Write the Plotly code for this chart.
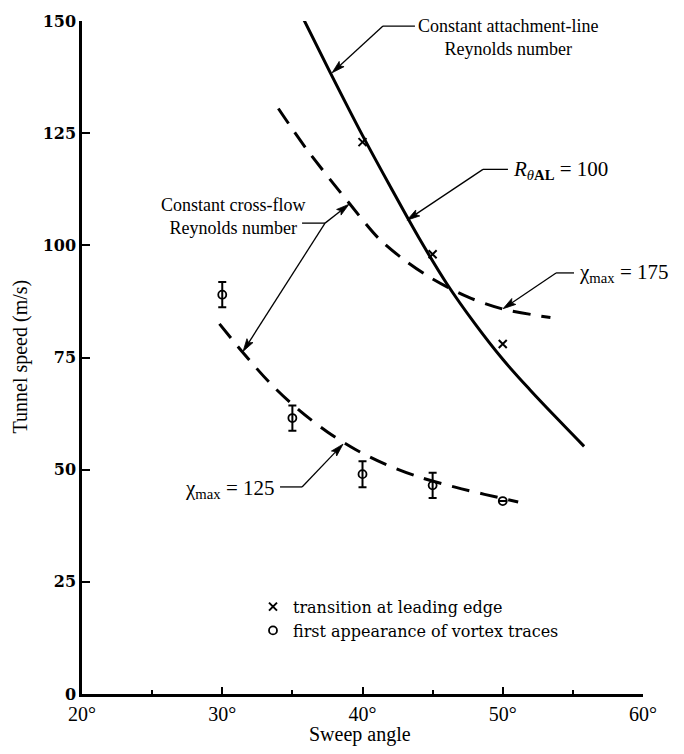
import math
import plotly.graph_objects as go

# ---- data -------------------------------------------------------------
# constant attachment-line Reynolds number, R_theta_AL = 100
attach_sweep = [35.8, 37.7, 40.0, 42.0, 44.0, 46.0, 48.0, 50.0, 52.0, 54.0, 55.8]
attach_speed = [150.4, 138.5, 124.5, 113.0, 101.8, 91.5, 82.6, 74.6, 67.6, 61.0, 55.2]

# constant cross-flow Reynolds number, chi_max = 175
cf175_sweep = [34.0, 36.0, 39.1, 41.2, 43.0, 45.0, 47.5, 49.9, 53.4]
cf175_speed = [130.5, 121.5, 109.2, 101.4, 96.7, 92.5, 88.5, 85.9, 83.9]

# constant cross-flow Reynolds number, chi_max = 125
cf125_sweep = [29.8, 31.5, 33.5, 35.5, 37.5, 39.5, 41.5, 44.0, 46.6, 48.7, 51.1]
cf125_speed = [82.5, 76.0, 69.0, 63.2, 58.4, 54.5, 51.4, 48.4, 46.1, 44.5, 42.8]

# transition at leading edge
transition_sweep = [40, 45, 50]
transition_speed = [123, 98, 78]

# first appearance of vortex traces, with scatter band
vortex_sweep = [30, 35, 40, 45, 50]
vortex_speed = [89.0, 61.5, 49.0, 46.5, 43.0]
vortex_err = [2.8, 2.8, 2.9, 2.8, 0.0]

x_ticks = [20, 30, 40, 50, 60]
x_tick_text = ["20°", "30°", "40°", "50°", "60°"]
y_ticks = [0, 25, 50, 75, 100, 125, 150]

SERIF = "Liberation Serif"
WIDE_SERIF = "DejaVu Serif"

# plot geometry (pixels)
W, H = 684, 754
M_L, M_R, M_T, M_B = 82, 41, 18, 60
X_RANGE = (20, 60)
Y_RANGE = (0, 150)
PX_PER_X = (W - M_L - M_R) / (X_RANGE[1] - X_RANGE[0])
PX_PER_Y = (H - M_T - M_B) / (Y_RANGE[1] - Y_RANGE[0])

fig = go.Figure()

fig.add_trace(go.Scatter(
    x=attach_sweep, y=attach_speed, mode="lines", showlegend=False,
    line=dict(color="black", width=3, shape="spline", smoothing=1.0),
))
for xs, ys in ((cf175_sweep, cf175_speed), (cf125_sweep, cf125_speed)):
    fig.add_trace(go.Scatter(
        x=xs, y=ys, mode="lines", showlegend=False,
        line=dict(color="black", width=3, dash="18px,11px",
                  shape="spline", smoothing=0.9),
    ))

fig.add_trace(go.Scatter(
    x=transition_sweep, y=transition_speed, mode="markers",
    name="transition at leading edge",
    marker=dict(symbol="x-thin-open", size=8, color="black",
                line=dict(width=2, color="black")),
))
fig.add_trace(go.Scatter(
    x=vortex_sweep, y=vortex_speed, mode="markers",
    name="first appearance of vortex traces",
    marker=dict(symbol="circle-open", size=8, color="black",
                line=dict(width=1.8, color="black")),
    error_y=dict(type="data", array=vortex_err, color="black",
                 thickness=2, width=4),
))

shapes = []


def leader(tip, tail, head_len=13, head_half=3.6):
    """Straight leader line from tail to tip with a filled arrowhead."""
    # work in pixel space so the head keeps its shape
    dx = (tip[0] - tail[0]) * PX_PER_X
    dy = (tip[1] - tail[1]) * PX_PER_Y
    d = math.hypot(dx, dy)
    ux, uy = dx / d, dy / d
    bx = -ux * head_len
    by = -uy * head_len
    nx, ny = -uy * head_half, ux * head_half

    def to_data(px, py):
        return tip[0] + px / PX_PER_X, tip[1] + py / PX_PER_Y

    b1 = to_data(bx + nx, by + ny)
    b2 = to_data(bx - nx, by - ny)
    neck = to_data(bx * 0.8, by * 0.8)
    shapes.append(dict(type="line", xref="x", yref="y",
                       x0=tail[0], y0=tail[1], x1=neck[0], y1=neck[1],
                       line=dict(color="black", width=1.3)))
    shapes.append(dict(
        type="path", xref="x", yref="y",
        path=(f"M{tip[0]},{tip[1]} L{b1[0]},{b1[1]} "
              f"L{neck[0]},{neck[1]} L{b2[0]},{b2[1]} Z"),
        fillcolor="black", line=dict(color="black", width=0.8)))


def stub(x0, x1, y):
    shapes.append(dict(type="line", xref="x", yref="y",
                       x0=x0, x1=x1, y0=y, y1=y,
                       line=dict(color="black", width=1.3)))


def label(x, y, text, anchor="center", size=18):
    return dict(x=x, y=y, xref="x", yref="y", text=text, showarrow=False,
                xanchor=anchor, yanchor="middle", align="center",
                font=dict(family=SERIF, size=size, color="black"))


# attachment-line curve
stub(41.46, 43.74, 148.88)
leader((37.83, 138.45), (41.46, 148.88))
# R_theta_AL = 100
stub(48.59, 50.37, 116.93)
leader((43.17, 105.61), (48.59, 116.93))
# chi_max = 175
stub(53.80, 55.08, 93.85)
leader((50.02, 85.87), (53.80, 93.85))
# cross-flow curves
stub(35.69, 37.33, 104.95)
leader((39.04, 109.16), (37.33, 104.95))
leader((31.48, 76.33), (37.33, 104.95))
# chi_max = 125
stub(34.12, 35.69, 46.15)
leader((38.61, 55.69), (35.69, 46.15))

annotations = [
    label(50.37, 146.4, "Constant attachment-line<br>Reynolds number"),
    label(50.6, 116.9, "<i>R</i><sub><i>θ</i><b>AL</b></sub> = 100",
          anchor="left", size=21),
    label(55.3, 93.85, "χ<sub>max</sub> = 175", anchor="left", size=21),
    label(30.77, 106.5, "Constant cross-flow<br>Reynolds number"),
    label(33.8, 45.7, "χ<sub>max</sub> = 125", anchor="right", size=21),
    # axis titles
    dict(x=-0.1105, y=0.5015, xref="paper", yref="paper",
         text="Tunnel speed (m/s)", showarrow=False, textangle=-90,
         xanchor="center", yanchor="middle",
         font=dict(family=SERIF, size=20, color="black")),
    dict(x=0.4955, y=-0.0607, xref="paper", yref="paper",
         text="Sweep angle", showarrow=False,
         xanchor="center", yanchor="middle",
         font=dict(family=SERIF, size=20, color="black")),
]

fig.update_layout(
    width=W, height=H,
    margin=dict(l=M_L, r=M_R, t=M_T, b=M_B),
    paper_bgcolor="white", plot_bgcolor="white",
    annotations=annotations, shapes=shapes,
    showlegend=True,
    legend=dict(x=0.3048, y=0.155, xanchor="left", yanchor="top",
                bgcolor="rgba(0,0,0,0)", borderwidth=0,
                font=dict(family=WIDE_SERIF, size=16, color="black"),
                traceorder="normal"),
    xaxis=dict(range=list(X_RANGE), tickvals=x_ticks, ticktext=x_tick_text,
               ticks="inside", ticklen=7, tickwidth=2, tickcolor="black",
               showline=True, linewidth=2.5, linecolor="black",
               showgrid=False, zeroline=False,
               minor=dict(ticks="inside", dtick=5, ticklen=4,
                          tickwidth=1.5, tickcolor="black", showgrid=False),
               tickfont=dict(family=SERIF, size=20, color="black")),
    yaxis=dict(range=list(Y_RANGE), tickvals=y_ticks,
               ticks="inside", ticklen=8, tickwidth=2, tickcolor="black",
               showline=True, linewidth=2.5, linecolor="black",
               showgrid=False, zeroline=False,
               tickfont=dict(family=WIDE_SERIF, size=16, color="black",
                             weight="bold")),
)

fig.write_html("out.html")
